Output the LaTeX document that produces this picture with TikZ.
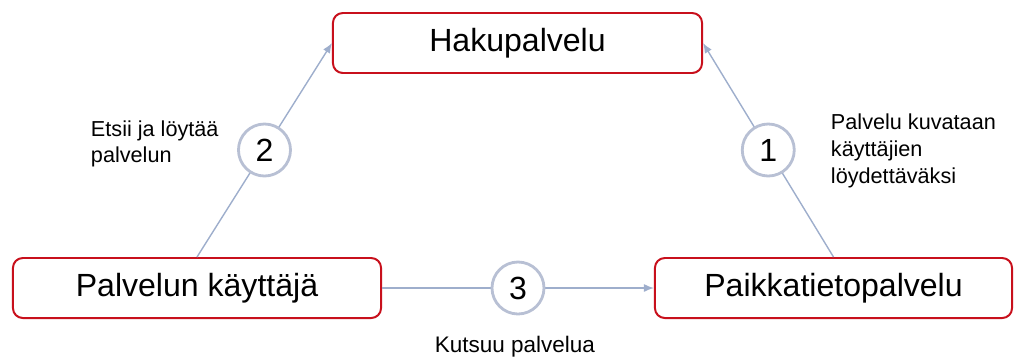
\documentclass[tikz,border=0pt]{standalone}
\usepackage{fontspec}
\setmainfont{Liberation Sans}
\usetikzlibrary{arrows.meta}
\definecolor{boxred}{RGB}{200,16,28}
\definecolor{linkblue}{RGB}{158,174,204}
\definecolor{ringgray}{RGB}{184,192,212}

\begin{document}
\begin{tikzpicture}[x=0.025cm, y=-0.025cm,
	servbox/.style={draw=boxred, line width=1.4pt, rounded corners=7pt, fill=white, minimum height=1.5cm, font=\fontsize{22.8}{27}\selectfont},
	numcirc/.style={circle, draw=ringgray, text=black, line width=2pt, fill=white, minimum size=1.3cm, inner sep=0pt, font=\fontsize{22.8}{27}\selectfont},
	conn/.style={color=linkblue, line width=1pt, -{Latex[length=2.5mm,width=2mm]}},
	note/.style={font=\fontsize{15.4}{19}\selectfont, align=left}]
	\useasboundingbox (0,0) rectangle (1015,358);
	\node[servbox, minimum width=9.225cm] (search) at (517.5,43) {Hakupalvelu};
	\node[servbox, minimum width=9.2cm] (user) at (197,288) {Palvelun käyttäjä};
	\node[servbox, minimum width=8.925cm] (service) at (833.5,288) {Paikkatietopalvelu};
	\draw[conn] (service.north) -- node[numcirc] (step1) {1} (search.east);
	\draw[conn] (user.north) -- node[numcirc] (step2) {2} (search.west);
	\draw[conn] (user.east) -- node[numcirc] (step3) {3} (service.west);
	\node[note, anchor=west] (find) at (86,144) {Etsii ja löytää\\palvelun};
	\node[note, anchor=west] (describe) at (826,151) {Palvelu kuvataan\\käyttäjien\\löydettäväksi};
	\node[note, font=\fontsize{16}{19}\selectfont, anchor=base, inner sep=0pt] (call) at (515,352) {Kutsuu palvelua};
\end{tikzpicture}
\end{document}
